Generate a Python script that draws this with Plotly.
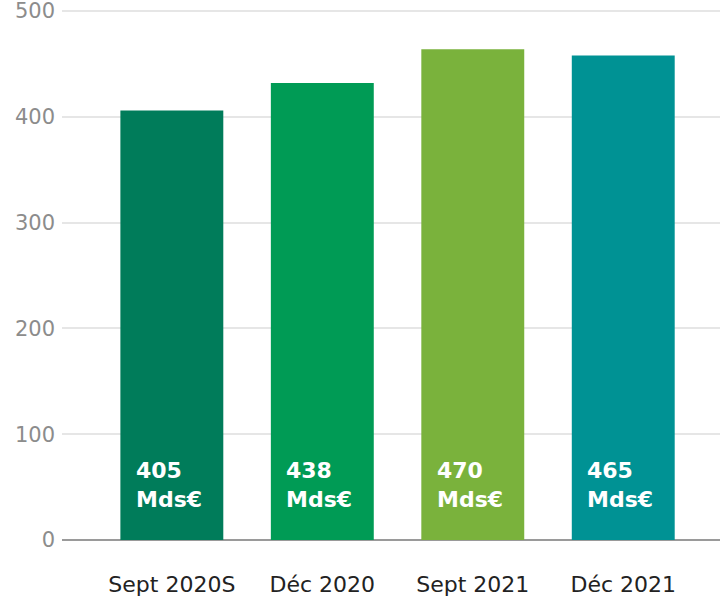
import plotly.graph_objects as go

categories = ["Sept 2020S", "Déc 2020", "Sept 2021", "Déc 2021"]
bar_values = [406, 432, 464, 458]
label_texts = ["405<br>Mds€", "438<br>Mds€", "470<br>Mds€", "465<br>Mds€"]
bar_colors = ["#007C5A", "#009B55", "#7AB23C", "#009294"]
y_ticks = [0, 100, 200, 300, 400, 500]

FONT = "DejaVu Sans"

fig = go.Figure(
    go.Bar(
        x=categories,
        y=bar_values,
        marker=dict(color=bar_colors, line=dict(width=0)),
        width=0.684,
        hoverinfo="skip",
    )
)

for cat, txt in zip(categories, label_texts):
    fig.add_annotation(
        x=cat, y=0, xref="x", yref="y",
        text=txt, showarrow=False,
        xanchor="left", yanchor="bottom", align="left",
        xshift=-38, yshift=26,
        font=dict(family=FONT, size=22, color="white", weight="bold"),
    )

fig.update_layout(
    width=720, height=600,
    margin=dict(l=62, r=0, t=10, b=60),
    paper_bgcolor="white", plot_bgcolor="white",
    showlegend=False,
    font=dict(family=FONT),
)

fig.update_xaxes(
    type="category",
    range=[-0.73, 3.643],
    showgrid=False,
    showline=False,
    zeroline=False,
    ticks="",
    tickfont=dict(family=FONT, size=22, color="#222222"),
    ticklabelstandoff=29,
)

fig.update_yaxes(
    range=[0, 501],
    tickvals=y_ticks,
    showgrid=True, gridcolor="#e6e6e6", gridwidth=2,
    zeroline=True, zerolinecolor="#9a9a9a", zerolinewidth=2,
    showline=False,
    ticks="",
    tickfont=dict(family=FONT, size=21, color="#8c8c8c"),
    ticklabelstandoff=6,
    ticklabeloverflow="allow",
)

fig.write_html("out.html")
